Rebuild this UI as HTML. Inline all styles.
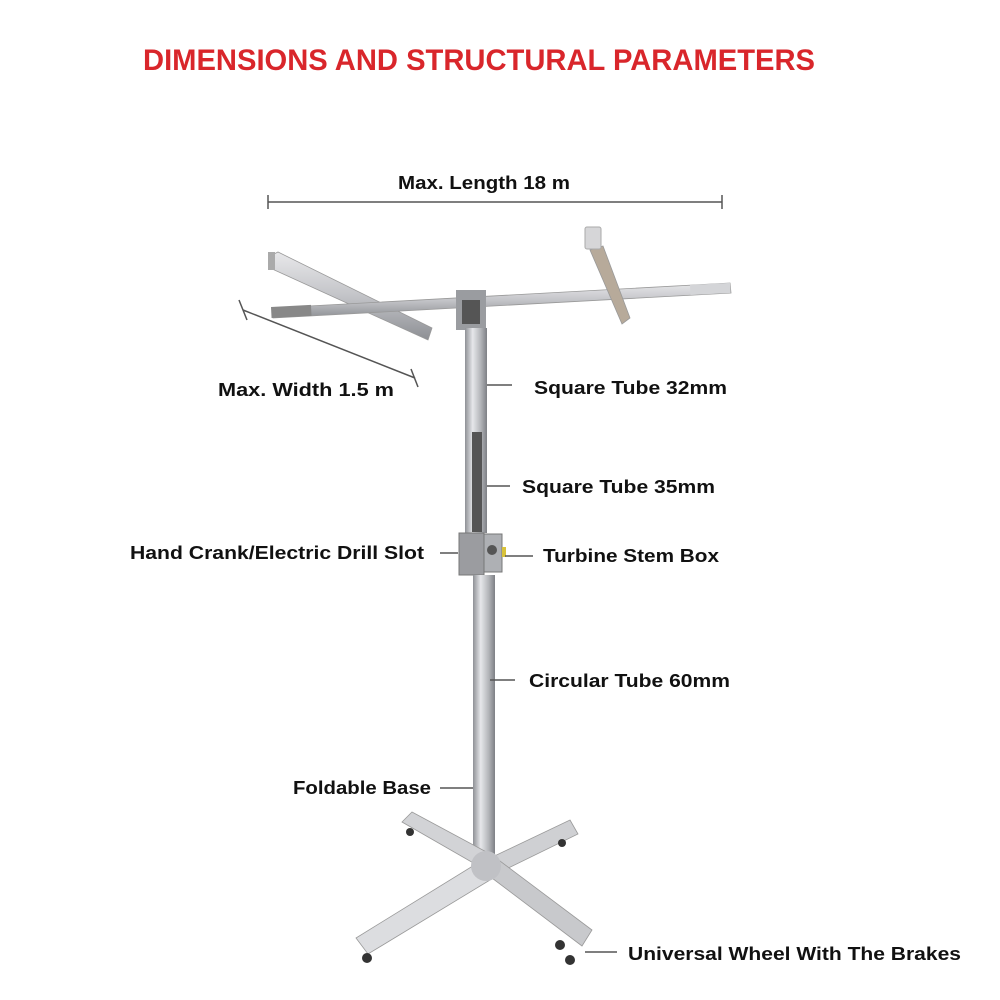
<!DOCTYPE html>
<html><head><meta charset="utf-8"><style>
html,body{margin:0;padding:0;background:#fff}
svg{display:block}
text{font-family:"Liberation Sans",sans-serif;font-weight:bold}
</style></head><body>
<svg width="1000" height="1000" viewBox="0 0 1000 1000" xmlns="http://www.w3.org/2000/svg">
<defs>
<linearGradient id="tubeH" x1="0" y1="0" x2="0" y2="1"><stop offset="0" stop-color="#e8e8ea"/><stop offset="0.5" stop-color="#c3c4c8"/><stop offset="1" stop-color="#8d8f94"/></linearGradient>
<linearGradient id="tubeV" x1="0" y1="0" x2="1" y2="0"><stop offset="0" stop-color="#8f9196"/><stop offset="0.35" stop-color="#e6e7ea"/><stop offset="0.7" stop-color="#b5b7bb"/><stop offset="1" stop-color="#7e8085"/></linearGradient>
</defs>
<text x="143" y="70" font-size="30" fill="#d9262b" textLength="672" lengthAdjust="spacingAndGlyphs">DIMENSIONS AND STRUCTURAL PARAMETERS</text>

<text x="398" y="189" font-size="18" fill="#111" textLength="172" lengthAdjust="spacingAndGlyphs">Max. Length 18 m</text>
<line x1="268" y1="202" x2="722" y2="202" stroke="#555" stroke-width="1.5"/>
<line x1="268" y1="195" x2="268" y2="209" stroke="#555" stroke-width="1.5"/>
<line x1="722" y1="195" x2="722" y2="209" stroke="#555" stroke-width="1.5"/>
<line x1="243" y1="310" x2="415" y2="378" stroke="#555" stroke-width="1.5"/>
<line x1="239" y1="300" x2="247" y2="320" stroke="#555" stroke-width="1.5"/>
<line x1="411" y1="369" x2="418" y2="387" stroke="#555" stroke-width="1.5"/>
<text x="218" y="396" font-size="18" fill="#111" textLength="176" lengthAdjust="spacingAndGlyphs">Max. Width 1.5 m</text>

<polygon points="270,256 278,252 432,328 428,340 270,268" fill="url(#tubeH)" stroke="#999" stroke-width="0.8"/>
<rect x="268" y="252" width="7" height="18" fill="#aaa"/>
<polygon points="272,308 730,283 731,293 273,318" fill="url(#tubeH)" stroke="#999" stroke-width="0.8"/>
<rect x="271" y="307" width="40" height="11" fill="#888" transform="rotate(-3 271 307)"/>
<rect x="690" y="285" width="40" height="10" fill="#d4d5d8" transform="rotate(-3 690 285)"/>
<polygon points="590,250 603,246 630,318 622,324" fill="#b7aa9a" stroke="#999" stroke-width="0.8"/>
<rect x="585" y="227" width="16" height="22" rx="2" fill="#d6d6d8" stroke="#aaa"/>
<rect x="456" y="290" width="30" height="40" fill="#9a9ca0"/>
<rect x="462" y="300" width="18" height="24" fill="#555"/>

<rect x="465" y="328" width="22" height="205" fill="url(#tubeV)"/>
<rect x="472" y="432" width="10" height="100" fill="#555"/>
<rect x="459" y="533" width="25" height="42" fill="#9b9ca0" stroke="#777"/>
<rect x="484" y="534" width="18" height="38" fill="#aeb0b4" stroke="#777"/>
<circle cx="492" cy="550" r="5" fill="#555"/>
<rect x="502" y="547" width="4" height="10" fill="#d8c23a"/>
<rect x="473" y="575" width="22" height="280" fill="url(#tubeV)"/>

<g stroke="#999" stroke-width="0.8">
<polygon points="402,822 412,812 492,855 482,868" fill="#d2d3d6"/>
<polygon points="570,820 578,834 496,874 486,860" fill="#cfd0d3"/>
<polygon points="476,864 490,880 368,954 356,938" fill="#dcdde0"/>
<polygon points="484,872 496,858 592,930 582,946" fill="#c8c9cc"/>
</g>
<circle cx="486" cy="866" r="15" fill="#c0c1c5"/>
<g fill="#333">
<circle cx="410" cy="832" r="4"/><circle cx="562" cy="843" r="4"/>
<circle cx="367" cy="958" r="5"/><circle cx="560" cy="945" r="5"/><circle cx="570" cy="960" r="5"/>
</g>

<g stroke="#555" stroke-width="1.5">
<line x1="487" y1="385" x2="512" y2="385"/>
<line x1="487" y1="486" x2="510" y2="486"/>
<line x1="440" y1="553" x2="458" y2="553"/>
<line x1="505" y1="556" x2="533" y2="556"/>
<line x1="490" y1="680" x2="515" y2="680"/>
<line x1="440" y1="788" x2="473" y2="788"/>
<line x1="585" y1="952" x2="617" y2="952"/>
</g>
<g font-size="18" fill="#111">
<text x="534" y="394" textLength="193" lengthAdjust="spacingAndGlyphs">Square Tube 32mm</text>
<text x="522" y="493" textLength="193" lengthAdjust="spacingAndGlyphs">Square Tube 35mm</text>
<text x="130" y="559" textLength="294" lengthAdjust="spacingAndGlyphs">Hand Crank/Electric Drill  Slot</text>
<text x="543" y="562" textLength="176" lengthAdjust="spacingAndGlyphs">Turbine Stem Box</text>
<text x="529" y="687" textLength="201" lengthAdjust="spacingAndGlyphs">Circular Tube 60mm</text>
<text x="293" y="794" textLength="138" lengthAdjust="spacingAndGlyphs">Foldable Base</text>
<text x="628" y="960" textLength="333" lengthAdjust="spacingAndGlyphs">Universal Wheel With The Brakes</text>
</g>
</svg>
</body></html>
